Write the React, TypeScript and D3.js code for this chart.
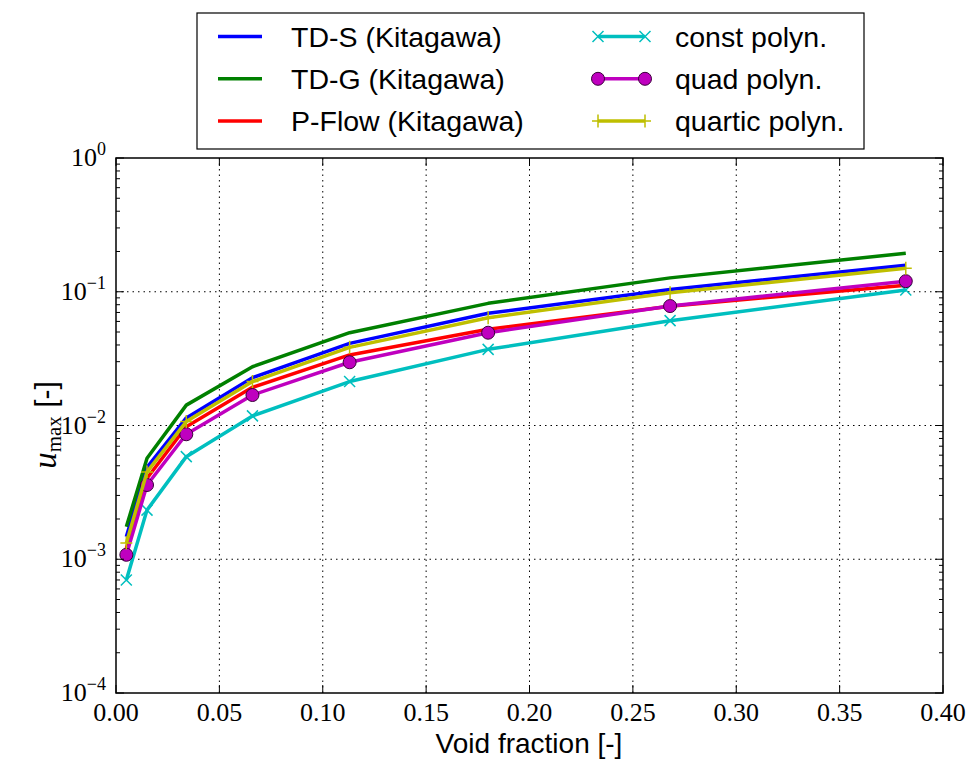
import React from "react";
import * as d3 from "d3";

const voidFraction = [0.005, 0.015, 0.034, 0.066, 0.113, 0.18, 0.268, 0.382];
const tdS = [1.47e-3, 4.87e-3, 0.0114, 0.0228, 0.0411, 0.069, 0.104, 0.158];
const tdG = [1.75e-3, 5.69e-3, 0.0142, 0.0275, 0.0494, 0.0819, 0.127, 0.194];
const pFlow = [1.21e-3, 4.03e-3, 0.0098, 0.0193, 0.0337, 0.0524, 0.078, 0.112];
const constPolyn = [7.0e-4, 2.33e-3, 5.85e-3, 0.0118, 0.0213, 0.0371, 0.0608, 0.103];
const quadPolyn = [1.08e-3, 3.59e-3, 0.0086, 0.0169, 0.0297, 0.0494, 0.0782, 0.12];
const quarticPolyn = [1.32e-3, 4.5e-3, 0.0107, 0.0213, 0.0384, 0.064, 0.0984, 0.15];

const xTicks = [0, 0.05, 0.1, 0.15, 0.2, 0.25, 0.3, 0.35, 0.4];
const xTickLabels = ["0.00", "0.05", "0.10", "0.15", "0.20", "0.25", "0.30", "0.35", "0.40"];
const yTicks = [1, 0.1, 0.01, 0.001, 0.0001];
const yTickExps = ["0", "−1", "−2", "−3", "−4"];

type Series = { name: string; values: number[]; color: string; marker: "none" | "x" | "o" | "+" };
const series: Series[] = [
  { name: "TD-S (Kitagawa)", values: tdS, color: "#0000ff", marker: "none" },
  { name: "TD-G (Kitagawa)", values: tdG, color: "#008000", marker: "none" },
  { name: "P-Flow (Kitagawa)", values: pFlow, color: "#ff0000", marker: "none" },
  { name: "const polyn.", values: constPolyn, color: "#00bfbf", marker: "x" },
  { name: "quad polyn.", values: quadPolyn, color: "#bf00bf", marker: "o" },
  { name: "quartic polyn.", values: quarticPolyn, color: "#bfbf00", marker: "+" },
];

const L = 116, R = 943, T = 158, B = 693;
const serif = "'Liberation Serif', 'DejaVu Serif', serif";
const sans = "'Liberation Sans', Arial, sans-serif";

function Marker({ type, x, y, color }: { type: string; x: number; y: number; color: string }) {
  if (type === "o") return <circle cx={x} cy={y} r={6.5} fill={color} stroke="#3a003a" strokeWidth={1} />;
  if (type === "x")
    return (
      <path d={`M${x - 5.5},${y - 5.5}L${x + 5.5},${y + 5.5}M${x - 5.5},${y + 5.5}L${x + 5.5},${y - 5.5}`} stroke={color} strokeWidth={1.5} />
    );
  if (type === "+")
    return <path d={`M${x - 6},${y}L${x + 6},${y}M${x},${y - 6.5}L${x},${y + 6.5}`} stroke={color} strokeWidth={1.5} />;
  return null;
}

export default function App() {
  const x = d3.scaleLinear().domain([0, 0.4]).range([L, R]);
  const y = d3.scaleLog().domain([1e-4, 1]).range([B, T]);
  const line = d3
    .line<number>()
    .x((_, i) => x(voidFraction[i]))
    .y((d) => y(d));

  const minor: number[] = [];
  for (let e = -4; e < 0; e++) for (let k = 2; k <= 9; k++) minor.push(k * Math.pow(10, e));

  const legendRows = [0, 1, 2];
  return (
    <svg width={970} height={762} style={{ position: "absolute", left: 0, top: 0, background: "#fff" }}>
      <defs>
        <clipPath id="clip">
          <rect x={L} y={T} width={R - L} height={B - T} />
        </clipPath>
      </defs>
      <rect x={0} y={0} width={970} height={762} fill="#fff" />
      {/* grid */}
      {xTicks.slice(1, -1).map((t) => (
        <line key={"gx" + t} x1={x(t)} x2={x(t)} y1={T} y2={B} stroke="#000" strokeWidth={1} strokeDasharray="1.5,4" />
      ))}
      {yTicks.slice(1, -1).map((t) => (
        <line key={"gy" + t} x1={L} x2={R} y1={y(t)} y2={y(t)} stroke="#000" strokeWidth={1} strokeDasharray="1.5,4" />
      ))}
      {/* series */}
      <g clipPath="url(#clip)">
        {series.map((s) => (
          <g key={s.name}>
            <path d={line(s.values) || ""} fill="none" stroke={s.color} strokeWidth={3.5} strokeLinejoin="round" />
            {s.marker !== "none" &&
              s.values.map((v, i) => <Marker key={i} type={s.marker} x={x(voidFraction[i])} y={y(v)} color={s.color} />)}
          </g>
        ))}
      </g>
      {/* ticks */}
      {xTicks.map((t) => (
        <g key={"xt" + t}>
          <line x1={x(t)} x2={x(t)} y1={B} y2={B - 8} stroke="#000" />
          <line x1={x(t)} x2={x(t)} y1={T} y2={T + 8} stroke="#000" />
        </g>
      ))}
      {yTicks.map((t) => (
        <g key={"yt" + t}>
          <line x1={L} x2={L + 8} y1={y(t)} y2={y(t)} stroke="#000" />
          <line x1={R} x2={R - 8} y1={y(t)} y2={y(t)} stroke="#000" />
        </g>
      ))}
      {minor.map((t) => (
        <g key={"ym" + t}>
          <line x1={L} x2={L + 4} y1={y(t)} y2={y(t)} stroke="#000" />
          <line x1={R} x2={R - 4} y1={y(t)} y2={y(t)} stroke="#000" />
        </g>
      ))}
      <rect x={L} y={T} width={R - L} height={B - T} fill="none" stroke="#000" strokeWidth={1.5} />
      {/* tick labels */}
      {xTicks.map((t, i) => (
        <text key={"xl" + t} x={x(t)} y={B + 28} textAnchor="middle" fontFamily={serif} fontSize={26} fill="#000">
          {xTickLabels[i]}
        </text>
      ))}
      {yTicks.map((t, i) => (
        <text key={"yl" + t} x={106} y={y(t) + 8} textAnchor="end" fontFamily={serif} fontSize={26} fill="#000">
          10
          <tspan dy={-11} fontSize={18}>
            {yTickExps[i]}
          </tspan>
        </text>
      ))}
      {/* axis labels */}
      <text x={529} y={753} textAnchor="middle" fontFamily={sans} fontSize={28} fill="#000">
        Void fraction [-]
      </text>
      <g transform="translate(56,425) rotate(-90)">
        <text textAnchor="middle" fill="#000" fontSize={30}>
          <tspan fontFamily={serif} fontStyle="italic" fontSize={33}>u</tspan>
          <tspan fontFamily={serif} fontSize={21} dy={5}>max</tspan>
          <tspan fontFamily={sans} dy={-5}> [-]</tspan>
        </text>
      </g>
      {/* legend */}
      <rect x={197} y={13} width={667} height={136} fill="#fff" stroke="#000" strokeWidth={1.2} />
      {legendRows.map((r) => {
        const cy = 36.5 + r * 42.3;
        const s1 = series[r];
        const s2 = series[r + 3];
        return (
          <g key={"lg" + r}>
            <line x1={218} x2={262} y1={cy} y2={cy} stroke={s1.color} strokeWidth={3.5} />
            <text x={291} y={cy + 10} fontFamily={sans} fontSize={28.5} fill="#000">
              {s1.name}
            </text>
            <line x1={598} x2={645} y1={cy} y2={cy} stroke={s2.color} strokeWidth={3.5} />
            <Marker type={s2.marker} x={598} y={cy} color={s2.color} />
            <Marker type={s2.marker} x={645} y={cy} color={s2.color} />
            <text x={675} y={cy + 10} fontFamily={sans} fontSize={28.5} fill="#000">
              {s2.name}
            </text>
          </g>
        );
      })}
    </svg>
  );
}
